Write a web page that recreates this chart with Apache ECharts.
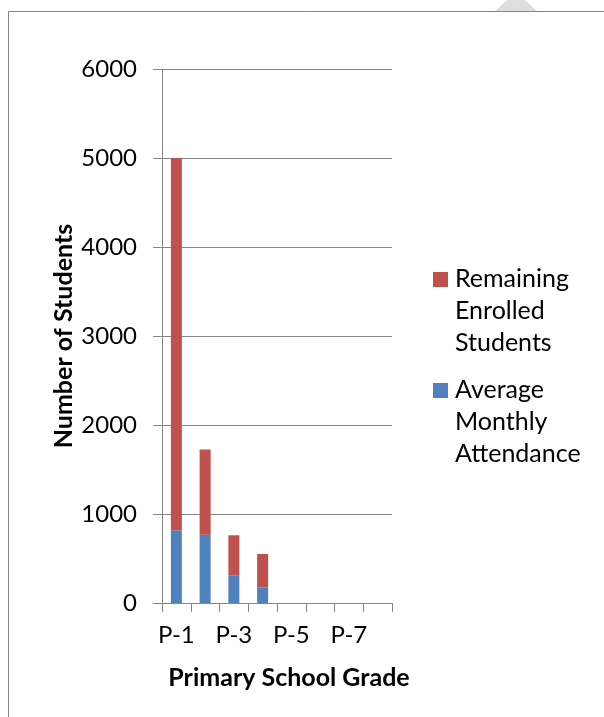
<!DOCTYPE html>
<html>
<head>
<meta charset="utf-8">
<script src="https://cdn.jsdelivr.net/npm/echarts@6/dist/echarts.min.js"></script>
<style>html,body{margin:0;padding:0;background:#fff;}#c{width:604px;height:717px;}</style>
</head>
<body>
<div id="c"></div>
<script>
var categories = ['P-1','P-2','P-3','P-4','P-5','P-6','P-7','P-8'];
var attendance = [817, 768, 308, 173, 0, 0, 0, 0];
var remaining = [4183, 956, 453, 378, 0, 0, 0, 0];
var yTicks = [0, 1000, 2000, 3000, 4000, 5000, 6000];
var seriesNames = ['Average Monthly Attendance', 'Remaining Enrolled Students'];
var legendLabels = ['Remaining\nEnrolled\nStudents', 'Average\nMonthly\nAttendance'];

var FONT = 'Lato';
var GRAY = '#868686';
var BLUE = '#4F81BD';
var RED = '#C0504D';
var chart = echarts.init(document.getElementById('c'), null, {renderer: 'canvas'});
chart.setOption({
  animation: false,
  backgroundColor: '#fff',
  textStyle: {fontFamily: FONT},
  grid: {left: 162, right: 212, top: 69, bottom: 114, containLabel: false},
  xAxis: {
    type: 'category',
    data: categories,
    name: 'Primary School Grade',
    nameLocation: 'middle',
    nameGap: 62,
    nameTextStyle: {fontFamily: FONT, fontWeight: 'bold', fontSize: 25, color: '#000', padding: [0, 0, 0, 24]},
    axisLine: {show: true, lineStyle: {color: GRAY, width: 1}},
    axisTick: {show: true, interval: 0, length: 9, lineStyle: {color: GRAY}},
    axisLabel: {interval: 1, margin: 20, fontSize: 24, color: '#000', fontFamily: FONT}
  },
  yAxis: {
    type: 'value',
    min: yTicks[0], max: yTicks[yTicks.length - 1], interval: 1000,
    name: 'Number of Students',
    nameLocation: 'middle',
    nameGap: 86,
    nameTextStyle: {fontFamily: FONT, fontWeight: 'bold', fontSize: 25, color: '#000'},
    axisLine: {show: true, lineStyle: {color: GRAY, width: 1}},
    axisTick: {show: true, length: 9, lineStyle: {color: GRAY}},
    axisLabel: {margin: 25, fontSize: 24, color: '#000', fontFamily: FONT,
      formatter: function (v) { return String(v); }},
    splitLine: {show: true, lineStyle: {color: GRAY, width: 1}}
  },
  series: [
    {name: seriesNames[0], type: 'bar', stack: 'total', data: attendance, barWidth: 11,
     itemStyle: {color: BLUE}},
    {name: seriesNames[1], type: 'bar', stack: 'total', data: remaining, barWidth: 11,
     itemStyle: {color: RED}}
  ],
  graphic: [
    {type: 'rect', shape: {x: 8.5, y: 11.5, width: 700, height: 800}, style: {fill: 'none', stroke: GRAY, lineWidth: 1}, silent: true},
    {type: 'polygon', shape: {points: [[495, 11], [537, 11], [516, -8]]}, style: {fill: '#dedede'}, silent: true},
    {type: 'rect', shape: {x: 433, y: 272, width: 15, height: 15}, style: {fill: RED}, silent: true},
    {type: 'text', style: {text: legendLabels[0], x: 455, y: 263, fill: '#000', font: '25px Lato', lineHeight: 32, verticalAlign: 'top'}, silent: true},
    {type: 'rect', shape: {x: 433, y: 383, width: 15, height: 15}, style: {fill: BLUE}, silent: true},
    {type: 'text', style: {text: legendLabels[1], x: 455, y: 374, fill: '#000', font: '25px Lato', lineHeight: 32, verticalAlign: 'top'}, silent: true}
  ]
});
</script>
</body>
</html>
